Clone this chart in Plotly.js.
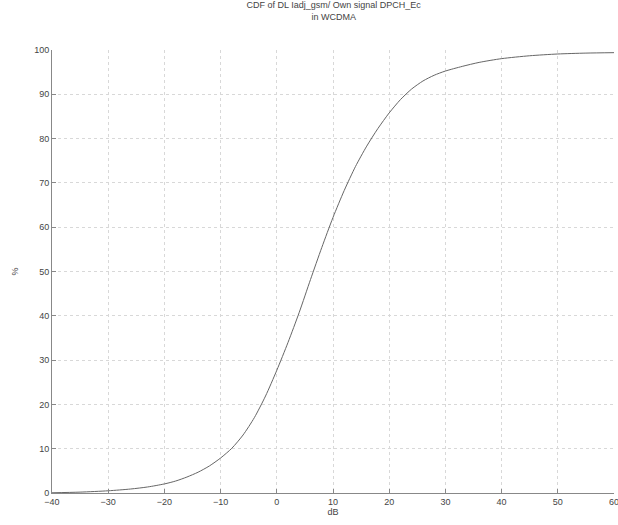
<!DOCTYPE html>
<html>
<head>
<meta charset="utf-8">
<script src="https://cdn.plot.ly/plotly-3.0.1.min.js"></script>
<style>
  html, body { margin: 0; padding: 0; background: #fff; }
  #chart { width: 618px; height: 525px; }
</style>
</head>
<body>
<div id="chart"></div>
<script>
// CDF of adjacent-channel GSM interference relative to own DPCH Ec, in dB
const levelDb = [-40, -35, -30, -26, -23, -20, -18, -16, -14, -12, -10, -8, -6, -4, -2, 0, 2, 4, 6, 8, 10, 12, 14, 16, 18, 20, 22, 24, 26, 28, 30, 33, 36, 40, 45, 50, 55, 60];
const cdfPct  = [0.05, 0.2, 0.5, 0.9, 1.36, 2.05, 2.7, 3.6, 4.7, 6.1, 7.9, 10.1, 13.1, 17.0, 21.9, 27.7, 34.0, 40.8, 48.2, 55.4, 62.2, 68.3, 73.7, 78.3, 82.3, 85.8, 88.8, 91.2, 93.0, 94.3, 95.25, 96.3, 97.2, 98.05, 98.7, 99.1, 99.3, 99.4];

const xTicks = [-40, -30, -20, -10, 0, 10, 20, 30, 40, 50, 60];
const yTicks = [0, 10, 20, 30, 40, 50, 60, 70, 80, 90, 100];

const textFont = { family: 'Liberation Sans, Arial, sans-serif', size: 9, color: '#444' };

const axisCommon = {
  showline: true,
  linecolor: '#888',
  linewidth: 1,
  mirror: false,
  ticks: 'inside',
  ticklen: 4,
  tickcolor: '#888',
  showgrid: true,
  gridcolor: '#d8d8d8',
  griddash: 'dot',
  gridwidth: 1,
  zeroline: false,
  ticklabeloverflow: 'allow',
  tickfont: textFont
};

Plotly.newPlot('chart', [{
  x: levelDb,
  y: cdfPct,
  type: 'scatter',
  mode: 'lines',
  line: { color: '#666', width: 1, shape: 'spline', smoothing: 0.7 },
  hoverinfo: 'x+y'
}], {
  width: 618,
  height: 525,
  margin: { l: 52, r: 4, t: 50, b: 32 },
  paper_bgcolor: '#fff',
  plot_bgcolor: '#fff',
  showlegend: false,
  font: textFont,
  title: {
    text: 'CDF of DL Iadj_gsm/ Own signal DPCH_Ec<br>in WCDMA',
    font: textFont,
    x: 0.54,
    xanchor: 'center',
    y: 0.985,
    yanchor: 'top'
  },
  xaxis: Object.assign({}, axisCommon, {
    range: [-40, 60],
    tickvals: xTicks,
    ticktext: xTicks.map(v => v < 0 ? '\u2212' + Math.abs(v) : String(v)),
    title: { text: 'dB', font: textFont, standoff: 2 }
  }),
  yaxis: Object.assign({}, axisCommon, {
    range: [0, 100],
    tickvals: yTicks,
    title: { text: '%', font: textFont, standoff: 14 }
  })
}, { displayModeBar: false, staticPlot: true });
</script>
</body>
</html>
